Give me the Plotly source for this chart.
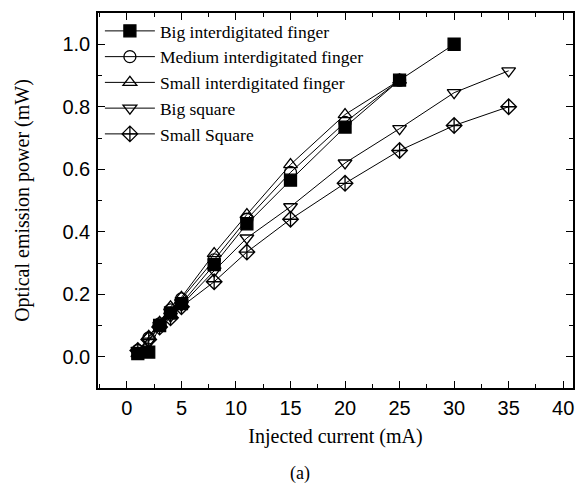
import plotly.graph_objects as go

current = [1, 2, 3, 4, 5, 8, 11, 15, 20, 25, 30, 35]

big_if = [0.01, 0.015, 0.10, 0.14, 0.17, 0.295, 0.425, 0.565, 0.735, 0.885, 1.0]
medium_if = [0.02, 0.06, 0.105, 0.15, 0.185, 0.31, 0.44, 0.59, 0.75, 0.885]
small_if = [0.01, 0.065, 0.11, 0.16, 0.19, 0.33, 0.455, 0.615, 0.775, 0.885]
big_sq = [0.02, 0.05, 0.10, 0.13, 0.165, 0.275, 0.38, 0.48, 0.62, 0.73, 0.845, 0.915]
small_sq = [0.02, 0.055, 0.095, 0.125, 0.16, 0.24, 0.335, 0.44, 0.555, 0.66, 0.74, 0.80]

names = ["Big interdigitated finger", "Medium interdigitated finger",
         "Small interdigitated finger", "Big square", "Small Square"]
series = [big_if, medium_if, small_if, big_sq, small_sq]
symbols = ["square", "circle-open", "triangle-up-open", "triangle-down-open", "diamond-cross-open"]

x_ticks = [0, 5, 10, 15, 20, 25, 30, 35, 40]
y_ticks = [0.0, 0.2, 0.4, 0.6, 0.8, 1.0]

fig = go.Figure()
for name, ys, sym in zip(names, series, symbols):
    fig.add_trace(go.Scatter(
        x=current[:len(ys)], y=ys, name=name, mode="lines+markers",
        line=dict(color="black", width=1),
        marker=dict(symbol=sym, size=12, color="black", line=dict(color="black", width=1.3)),
    ))

serif = "Liberation Serif, Times New Roman, serif"
sans = "Liberation Sans, Arial, sans-serif"

axis_common = dict(
    showline=True, linecolor="black", linewidth=1.5, mirror="allticks",
    ticks="inside", ticklen=7, tickwidth=1, tickcolor="black",
    showgrid=False, zeroline=False,
    tickfont=dict(family=sans, size=20, color="black"),
    title_font=dict(family=serif, size=20, color="black"),
)

fig.update_xaxes(range=[-2.65, 40.9], tickvals=x_ticks,
                 title_text="Injected current (mA)", title_standoff=11,
                 ticklabelstandoff=1,
                 minor=dict(ticks="inside", ticklen=4, tickcolor="black", dtick=2.5, tick0=0, showgrid=False),
                 **axis_common)
fig.update_yaxes(range=[-0.1, 1.1], tickvals=y_ticks, tickformat=".1f",
                 title_text="Optical emission power (mW)", title_standoff=27,
                 ticklabelstandoff=2,
                 minor=dict(ticks="inside", ticklen=4, tickcolor="black", dtick=0.1, tick0=0, showgrid=False),
                 **axis_common)

fig.update_layout(
    width=586, height=487,
    margin=dict(l=98, r=11, t=12, b=99),
    paper_bgcolor="white", plot_bgcolor="white",
    showlegend=True,
    legend=dict(x=0.004, y=1.0, xanchor="left", yanchor="top",
                bgcolor="rgba(0,0,0,0)", tracegroupgap=0, itemwidth=50,
                font=dict(family=serif, size=17.5, color="black")),
    annotations=[dict(text="(a)", x=0.426, y=0, xref="paper", yref="paper",
                      showarrow=False, yanchor="middle", yshift=-85,
                      font=dict(family=serif, size=18, color="black"))],
)

fig.write_html("out.html", config={"displayModeBar": False},
               post_script="document.body.style.margin='0px';")
